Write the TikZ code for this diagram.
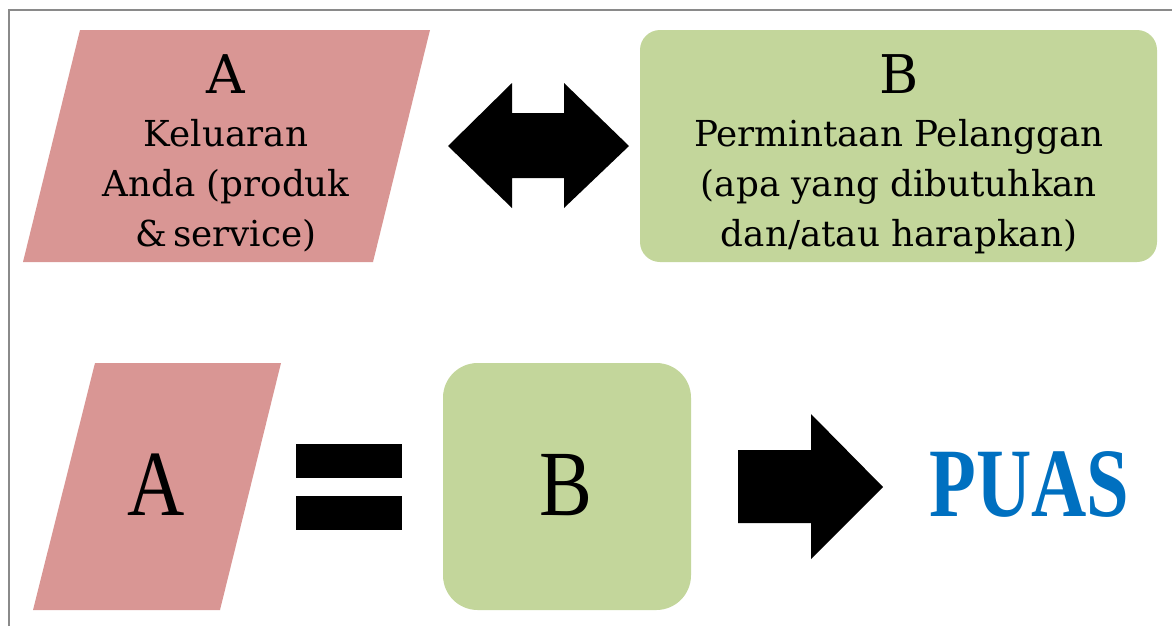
\documentclass[tikz,border=0pt]{standalone}
\usepackage{fontspec}
\setmainfont{DejaVu Serif}
\newfontfamily\narrowserif[FakeStretch=0.85]{Liberation Serif}
\newfontfamily\puasfont[FakeStretch=0.78]{Liberation Serif}
\definecolor{pinkfill}{HTML}{D99694}
\definecolor{greenfill}{HTML}{C3D69B}
\definecolor{puasblue}{HTML}{0070C0}
\definecolor{framegray}{HTML}{8A8A8A}
\tikzset{
  txt/.style={inner sep=0pt, anchor=base, text=black},
  bodytxt/.style={txt, font=\fontsize{26.8pt}{37.5pt}\selectfont},
  titletxt/.style={txt, font=\fontsize{40pt}{48pt}\selectfont},
  bigtxt/.style={txt, font=\fontsize{70pt}{80pt}\narrowserif},
  blockarrow/.style={fill=black, draw=none},
}
\begin{document}
\begin{tikzpicture}[x=0.75pt,y=-0.75pt]
\useasboundingbox (0,0) rectangle (1172,626);
% frame
\draw[framegray, line width=1.5pt] (9,626) -- (9,10) -- (1172,10);

% ---- top row ----
\fill[pinkfill] (80,30) -- (430,30) -- (373,262) -- (23,262) -- cycle;
\node[titletxt] (ta0) at (226,93) {A};
\node[bodytxt] (ta1) at (226,146) {Keluaran};
\node[bodytxt] (ta2) at (226,196) {Anda (produk};
\node[bodytxt] (ta3) at (226,246) {\&\,service)};

\fill[greenfill, rounded corners=15pt] (640,30) rectangle (1157,262);
\node[titletxt] (tb0) at (899,93) {B};
\node[bodytxt] (tb1) at (899,146) {Permintaan Pelanggan};
\node[bodytxt] (tb2) at (899,196) {(apa yang dibutuhkan};
\node[bodytxt] (tb3) at (899,246) {dan/atau harapkan)};

% double arrow
\fill[blockarrow] (448,146) -- (512,83) -- (512,113) -- (564,113) -- (564,83)
  -- (629,146) -- (564,208) -- (564,178) -- (512,178) -- (512,208) -- cycle;

% ---- bottom row ----
\fill[pinkfill] (95,363) -- (281,363) -- (220,610) -- (33,610) -- cycle;
\node[bigtxt] (ba) at (156,515) {A};

\fill[blockarrow] (296,444) rectangle (402,478);
\fill[blockarrow] (296,496) rectangle (402,530);

\fill[greenfill, rounded corners=26pt] (443,363) rectangle (691,610);
\node[bigtxt] (bb) at (566,515) {B};

\fill[blockarrow] (738,450) -- (811,450) -- (811,414) -- (883,487) -- (811,559)
  -- (811,523) -- (738,523) -- cycle;

\node[inner sep=0pt, anchor=base west, text=puasblue,
  font=\fontsize{73.6pt}{80pt}\puasfont\bfseries] (puas) at (929,516) {PUAS};
\end{tikzpicture}
\end{document}
